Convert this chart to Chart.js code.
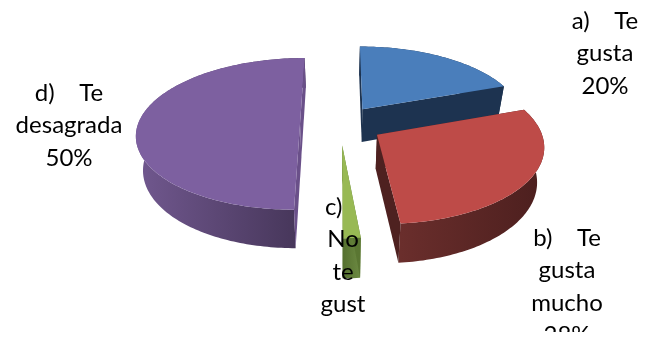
<!DOCTYPE html>
<html>
<head>
<meta charset="utf-8">
<script src="https://cdn.jsdelivr.net/npm/chart.js@4/dist/chart.umd.min.js"></script>
<style>
  body { margin: 0; background: #fff; }
  canvas { display: block; }
</style>
</head>
<body>
<canvas id="grafico" width="654" height="337"></canvas>
<script>
// ========== DATOS ==========
const categorias = ["a) Te gusta", "b) Te gusta mucho", "c) No te gusta", "d) Te desagrada"];
const valores = [19.5, 29, 1.5, 50];
const lineasEtiqueta = [
  ["a)    Te", "gusta", "20%"],
  ["b)    Te", "gusta", "mucho", "28%"],
  ["c)   ", "No", "te", "gust", "a", "2%"],
  ["d)    Te", "desagrada", "50%"]
];

// ========== ESTILO ==========
const coloresCara = ["#4A7EBB", "#BE4B48", "#98B954", "#7D60A0"];
const coloresRadial = ["#1D3350", "#4E2120", "#5A7632", "#6A5089"];
const coloresPared = [
  ["#1D3350", "#1D3350"],
  ["#6A2E2C", "#4C1F1E"],
  ["#55702F", "#6C8A42"],
  ["#71588F", "#453558"]
];
const desplazamientos = [40, 43, 45, 40];
const centroEtiqueta = [[605, 21], [567, 238], [343, 207], [69, 93]];
const altoLinea = 32.5;
const limiteTexto = 332;
const ordenDibujo = [0, 3, 1, 2];

const inclinacion = 0.46;
const perspectiva = 0.13;
const profundidad = 33.5;
const convergencia = 0.035;

// ========== PASTEL 3D ==========
function proyectar(el, X, Y) {
  const s = 1 / (1 - perspectiva * Y / el.outerRadius);
  const x = el.cx + X * s;
  const y = el.cy + inclinacion * Y * s;
  return {
    x, y,
    bx: x - (x - el.cx) * convergencia,
    by: y + profundidad * s
  };
}

function puntosBorde(el, datos) {
  const pts = [];
  const n = Math.max(4, Math.ceil((datos.fin - datos.ini) / 0.02));
  for (let i = 0; i <= n; i++) {
    const t = datos.ini + (datos.fin - datos.ini) * i / n;
    pts.push(proyectar(el, datos.ox + el.outerRadius * Math.cos(t), datos.oy + el.outerRadius * Math.sin(t)));
  }
  return pts;
}

function dibujarPorcion(ctx, arco, i) {
  const el = { cx: arco.x, cy: arco.y, outerRadius: arco.outerRadius };
  const medio = (arco.startAngle + arco.endAngle) / 2;
  const datos = {
    ini: arco.startAngle,
    fin: arco.endAngle,
    ox: arco.options.offset * Math.cos(medio),
    oy: arco.options.offset * Math.sin(medio)
  };
  const apice = proyectar(el, datos.ox, datos.oy);
  const borde = puntosBorde(el, datos);

  // pared exterior
  const xs = borde.map(p => p.x);
  const grad = ctx.createLinearGradient(Math.min(...xs), 0, Math.max(...xs), 0);
  grad.addColorStop(0, coloresPared[i][0]);
  grad.addColorStop(1, coloresPared[i][1]);
  ctx.fillStyle = grad;
  ctx.beginPath();
  borde.forEach((p, j) => j ? ctx.lineTo(p.x, p.y) : ctx.moveTo(p.x, p.y));
  for (let j = borde.length - 1; j >= 0; j--) ctx.lineTo(borde[j].bx, borde[j].by);
  ctx.closePath();
  ctx.fill();

  // paredes radiales
  ctx.fillStyle = coloresRadial[i];
  [borde[0], borde[borde.length - 1]].forEach(p => {
    ctx.beginPath();
    ctx.moveTo(apice.x, apice.y);
    ctx.lineTo(p.x, p.y);
    ctx.lineTo(p.bx, p.by);
    ctx.lineTo(apice.bx, apice.by);
    ctx.closePath();
    ctx.fill();
  });

  // cara superior
  ctx.fillStyle = coloresCara[i];
  ctx.beginPath();
  ctx.moveTo(apice.x, apice.y);
  borde.forEach(p => ctx.lineTo(p.x, p.y));
  ctx.closePath();
  ctx.fill();
}

const pastel3d = {
  id: 'pastel3d',
  beforeDatasetsDraw(chart) {
    const arcos = chart.getDatasetMeta(0).data;
    ordenDibujo.forEach(i => dibujarPorcion(chart.ctx, arcos[i], i));
    return false;
  },
  afterDraw(chart) {
    const ctx = chart.ctx;
    ctx.save();
    ctx.beginPath();
    ctx.rect(0, 0, chart.width, limiteTexto);
    ctx.clip();
    ctx.font = '400 24px Lato, sans-serif';
    ctx.fillStyle = '#000';
    ctx.textAlign = 'center';
    ctx.textBaseline = 'middle';
    lineasEtiqueta.forEach((lineas, i) => {
      lineas.forEach((txt, j) => {
        ctx.fillText(txt, centroEtiqueta[i][0], centroEtiqueta[i][1] + j * altoLinea);
      });
    });
    ctx.restore();
  }
};

new Chart(document.getElementById('grafico'), {
  type: 'pie',
  data: {
    labels: categorias,
    datasets: [{
      data: valores,
      backgroundColor: coloresCara,
      borderWidth: 0,
      offset: desplazamientos,
      radius: 162
    }]
  },
  options: {
    responsive: false,
    animation: false,
    layout: { padding: { left: 26, bottom: 89 } },
    plugins: {
      legend: { display: false },
      tooltip: { enabled: false }
    }
  },
  plugins: [pastel3d]
});
</script>
</body>
</html>
